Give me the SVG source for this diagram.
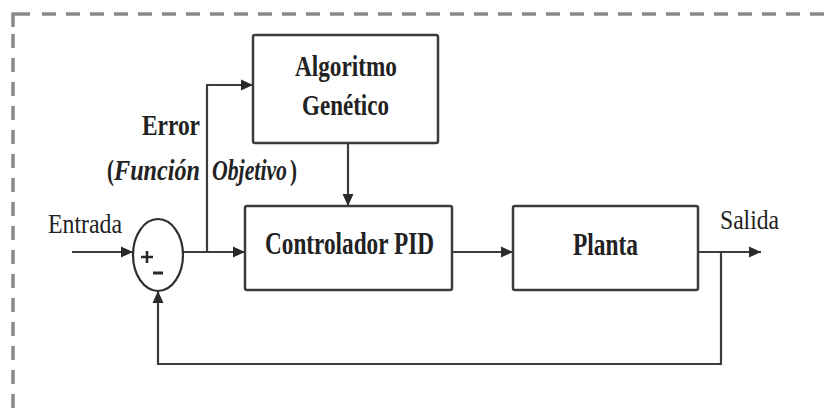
<svg xmlns="http://www.w3.org/2000/svg" width="831" height="408" viewBox="0 0 831 408">
  <style>
    .frame { fill: none; stroke: #8a8a8a; stroke-width: 3.5; }
    .dash { stroke-dasharray: 14 10; }
    .box { fill: #ffffff; stroke: #3c3c3c; stroke-width: 2.5; }
    .wire { fill: none; stroke: #3c3c3c; stroke-width: 2.2; }
    .lbl { font-family: "Liberation Serif", "DejaVu Serif", "Times New Roman", serif; fill: #222222; }
    .b { font-weight: bold; }
    .bi { font-weight: bold; font-style: italic; }
  </style>
  <defs>
    <marker id="arrow" markerUnits="userSpaceOnUse" markerWidth="13" markerHeight="12" refX="12" refY="6" orient="auto">
      <path d="M0,0.5 L12,6 L0,11.5 Z" fill="#2a2a2a"/>
    </marker>
  </defs>

  <!-- dashed outer frame (top and left edges) -->
  <g id="frame">
    <path class="frame" d="M13,27 V14 H30"/>
    <path class="frame dash" d="M42,14 H831"/>
    <path class="frame dash" d="M13,34 V408"/>
  </g>

  <!-- connectors -->
  <g id="connectors">
    <path class="wire" d="M72,252 H133" marker-end="url(#arrow)"/>
    <path class="wire" d="M183,252 H245" marker-end="url(#arrow)"/>
    <path class="wire" d="M207,252 V85 H253" marker-end="url(#arrow)"/>
    <path class="wire" d="M348,143 V206" marker-end="url(#arrow)"/>
    <path class="wire" d="M452,252 H513" marker-end="url(#arrow)"/>
    <path class="wire" d="M698,252 H761" marker-end="url(#arrow)"/>
    <path class="wire" d="M721,252 V364 H158 V291" marker-end="url(#arrow)"/>
  </g>

  <!-- summing junction -->
  <g id="sum">
    <ellipse cx="158" cy="255" rx="25" ry="36" fill="#ffffff" stroke="#2e2e2e" stroke-width="2.2"/>
    <path d="M141,257 H153 M147,251 V263" stroke="#2a2a2a" stroke-width="2.6"/>
    <path d="M153,273 H163" stroke="#2a2a2a" stroke-width="3"/>
  </g>

  <g id="ga">
    <rect class="box" x="253" y="35" width="185" height="108" rx="2"/>
    <text class="lbl b" x="346" y="76" font-size="30" text-anchor="middle" textLength="102" lengthAdjust="spacingAndGlyphs">Algoritmo</text>
    <text class="lbl b" x="345.5" y="115" font-size="30" text-anchor="middle" textLength="87" lengthAdjust="spacingAndGlyphs">Genético</text>
  </g>

  <g id="pid">
    <rect class="box" x="245" y="206" width="207" height="84" rx="2"/>
    <text class="lbl b" x="265" y="254" font-size="32" textLength="169" lengthAdjust="spacingAndGlyphs">Controlador PID</text>
  </g>

  <g id="plant">
    <rect class="box" x="513" y="206" width="185" height="84" rx="2"/>
    <text class="lbl b" x="573" y="255" font-size="32" textLength="65" lengthAdjust="spacingAndGlyphs">Planta</text>
  </g>

  <g id="labels">
    <text class="lbl" x="48" y="233" font-size="27" textLength="74" lengthAdjust="spacingAndGlyphs">Entrada</text>
    <text class="lbl" x="720" y="229" font-size="27" textLength="59" lengthAdjust="spacingAndGlyphs">Salida</text>
    <text class="lbl b" x="142" y="135" font-size="30" textLength="58" lengthAdjust="spacingAndGlyphs">Error</text>
    <text class="lbl b" x="107" y="180" font-size="30" textLength="7" lengthAdjust="spacingAndGlyphs">(</text>
    <text class="lbl bi" x="114" y="180" font-size="30" textLength="86" lengthAdjust="spacingAndGlyphs">Función</text>
    <text class="lbl bi" x="212" y="180" font-size="30" textLength="75" lengthAdjust="spacingAndGlyphs">Objetivo</text>
    <text class="lbl b" x="290" y="180" font-size="30" textLength="7" lengthAdjust="spacingAndGlyphs">)</text>
  </g>
</svg>
